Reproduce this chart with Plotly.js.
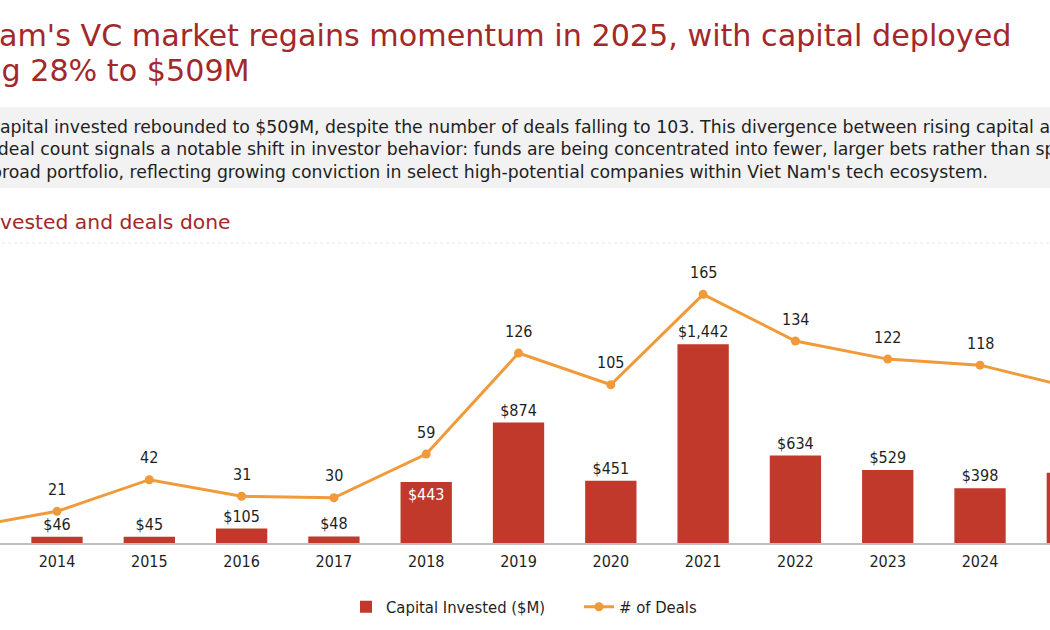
<!DOCTYPE html>
<html>
<head>
<meta charset="utf-8">
<script src="https://cdn.plot.ly/plotly-3.0.1.min.js"></script>
<style>
  html, body { margin: 0; padding: 0; background: #ffffff; }
  #chart { width: 1050px; height: 630px; }
</style>
</head>
<body>
<div id="chart"></div>
<script>
// Viet Nam venture capital: capital invested and number of deals by year
const years = ['2013', '2014', '2015', '2016', '2017', '2018', '2019', '2020', '2021', '2022', '2023', '2024', '2025'];
const capitalInvested = [null, 46, 45, 105, 48, 443, 874, 451, 1442, 634, 529, 398, 509];
const dealCount = [10, 21, 42, 31, 30, 59, 126, 105, 165, 134, 122, 118, 103];

const titleLines = [
  "Viet Nam's VC market regains momentum in 2025, with capital deployed",
  "surging 28% to $509M"
];
const summaryLines = [
  "In 2025, capital invested rebounded to $509M, despite the number of deals falling to 103. This divergence between rising capital and",
  "declining deal count signals a notable shift in investor behavior: funds are being concentrated into fewer, larger bets rather than spread",
  "across a broad portfolio, reflecting growing conviction in select high-potential companies within Viet Nam's tech ecosystem."
];
const chartHeading = "Capital invested and deals done";

const TEXT_FONT = '"DejaVu Sans", sans-serif';
const CHART_FONT = '"DejaVu Sans Condensed", "DejaVu Sans", sans-serif';
const RED = '#c0392b';
const ORANGE = '#f09a3a';
const TITLE_RED = '#a3282a';
const INK = '#1f1f1f';

const W = 1050, H = 630;
const plotTop = 250, plotBottom = 543;
const plotH = plotBottom - plotTop;

// pixel helpers for paper coordinates
const px = x => x / W;
const py = y => (plotBottom - y) / plotH;

// the 2018 label sits inside its bar, the rest above
const barTextPos = years.map(yr => yr === '2018' ? 'inside' : 'outside');
const barTextColor = years.map(yr => yr === '2018' ? '#ffffff' : INK);

const bars = {
  type: 'bar',
  name: 'Capital Invested ($M)',
  x: years,
  y: capitalInvested,
  marker: { color: RED, line: { width: 0 } },
  texttemplate: '$%{y:,}',
  textposition: barTextPos,
  insidetextanchor: 'end',
  textfont: { family: CHART_FONT, size: 16, color: barTextColor },
  constraintext: 'none',
  cliponaxis: false,
  hoverinfo: 'skip'
};

const deals = {
  type: 'scatter',
  mode: 'lines+markers',
  name: '# of Deals',
  x: years,
  y: dealCount,
  yaxis: 'y2',
  line: { color: ORANGE, width: 3 },
  marker: { color: ORANGE, size: 9 },
  hoverinfo: 'skip'
};

// deal-count labels above each marker; x is the category index because
// the year names look numeric to the annotation parser
const dealLabels = years.map((yr, i) => ({
  text: String(dealCount[i]),
  xref: 'x', yref: 'y2', x: i, y: dealCount[i],
  yshift: 22, yanchor: 'middle', showarrow: false,
  font: { family: CHART_FONT, size: 16, color: INK }
}));

const textBlocks = [
  ...titleLines.map((line, i) => ({
    text: line,
    xref: 'paper', yref: 'paper',
    x: px(-94), y: py(35 + i * 35), xanchor: 'left', yanchor: 'middle',
    align: 'left', showarrow: false,
    font: { family: TEXT_FONT, size: 30.2, color: TITLE_RED }
  })),
  ...summaryLines.map((line, i) => ({
    text: line,
    xref: 'paper', yref: 'paper',
    x: px(-88), y: py(127 + i * 22.5), xanchor: 'left', yanchor: 'middle',
    align: 'left', showarrow: false,
    font: { family: TEXT_FONT, size: 17.3, color: INK }
  })),
  {
    text: chartHeading,
    xref: 'paper', yref: 'paper',
    x: px(-98), y: py(222), xanchor: 'left', yanchor: 'middle',
    align: 'left', showarrow: false,
    font: { family: TEXT_FONT, size: 20.3, color: TITLE_RED }
  }
];

const shapes = [
  {
    type: 'rect', xref: 'paper', yref: 'paper', layer: 'below',
    x0: px(-100), x1: px(W + 40), y0: py(188), y1: py(107),
    fillcolor: '#f2f2f2', line: { width: 0 }
  },
  {
    type: 'line', xref: 'paper', yref: 'paper',
    x0: px(-100), x1: px(W + 40), y0: py(243), y1: py(243),
    line: { color: '#e6e6e6', width: 1, dash: 'dot' }
  }
];

// value axes are kept active for the scales but draw nothing
const hiddenAxis = {
  showticklabels: false, showline: false, showgrid: false, zeroline: false,
  ticks: '', fixedrange: true
};

const layout = {
  width: W, height: H,
  margin: { l: 0, r: 0, t: plotTop, b: H - plotBottom, pad: 0 },
  paper_bgcolor: '#ffffff',
  plot_bgcolor: '#ffffff',
  font: { family: CHART_FONT, color: INK },
  showlegend: true,
  bargap: 0.444,
  xaxis: {
    type: 'category',
    range: [0.3825, 11.758],
    showline: true, linecolor: '#bfbfbf', linewidth: 2,
    showgrid: false, zeroline: false, ticks: '',
    ticklabelstandoff: 3,
    tickfont: { family: CHART_FONT, size: 16, color: INK },
    fixedrange: true
  },
  yaxis: Object.assign({ range: [0, 2126] }, hiddenAxis),
  yaxis2: Object.assign({ range: [0, 194.4], overlaying: 'y', side: 'right' }, hiddenAxis),
  legend: {
    orientation: 'h', x: px(346), xanchor: 'left', y: py(607), yanchor: 'middle',
    font: { family: CHART_FONT, size: 16.5, color: INK },
    entrywidth: 188, entrywidthmode: 'pixels',
    itemwidth: 30, traceorder: 'normal'
  },
  annotations: [...textBlocks, ...dealLabels],
  shapes: shapes
};

Plotly.newPlot('chart', [bars, deals], layout, { displayModeBar: false, staticPlot: true });
</script>
</body>
</html>
